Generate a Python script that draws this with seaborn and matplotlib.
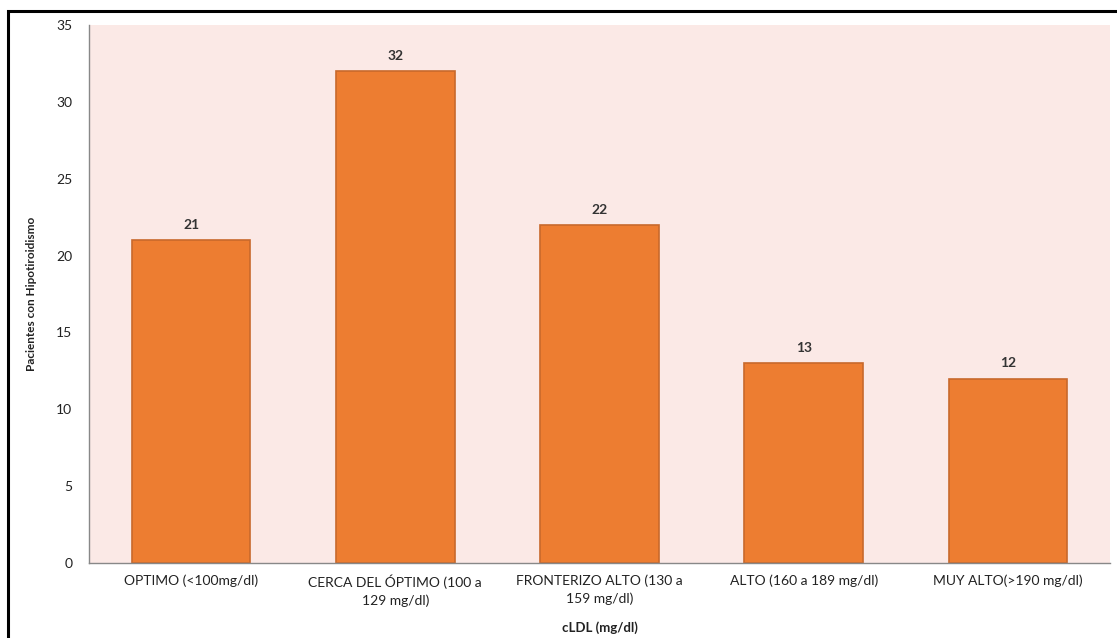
import matplotlib
matplotlib.use("Agg")
import matplotlib.pyplot as plt
import seaborn as sns
import pandas as pd
from matplotlib.patches import Rectangle

categories = ["OPTIMO (<100mg/dl)", "CERCA DEL ÓPTIMO (100 a\n129 mg/dl)",
              "FRONTERIZO ALTO (130 a\n159 mg/dl)", "ALTO (160 a 189 mg/dl)",
              "MUY ALTO(>190 mg/dl)"]
values = [21, 32, 22, 13, 12]
yticks = [0, 5, 10, 15, 20, 25, 30, 35]

sns.set_theme(style="white")
plt.rcParams['font.family'] = ['Lato', 'DejaVu Sans']

df = pd.DataFrame({"cat": categories, "val": values})

fig = plt.figure(figsize=(11.17, 6.38), dpi=100)
ax = fig.add_axes([89/1117, 1-563/638, (1110-89)/1117, (563-25)/638])
ax.set_facecolor("#FBE9E6")

sns.barplot(data=df, x="cat", y="val", ax=ax, color="#ED7D31", width=0.58,
            saturation=1, edgecolor="#C8692C", linewidth=1.2)

for i, v in enumerate(values):
    ax.text(i, v + 0.6, str(v), ha="center", va="bottom", fontsize=10,
            fontweight="bold", color="#333333")

ax.set_ylim(0, 35)
ax.set_xlim(-0.5, len(categories) - 0.5)
ax.set_yticks(yticks)
ax.tick_params(axis="y", labelsize=10, pad=12, length=0, colors="#222222")
ax.tick_params(axis="x", labelsize=10, pad=8, length=0, colors="#222222")
for lbl in ax.get_xticklabels():
    lbl.set_linespacing(1.55)
ax.set_ylabel("Pacientes con Hipotiroidismo", fontsize=8.5, fontweight="bold",
              labelpad=14, color="#222222")
ax.set_xlabel("cLDL (mg/dl)", fontsize=9.5, fontweight="bold", labelpad=10,
              color="#222222")

for s in ["top", "right"]:
    ax.spines[s].set_visible(False)
ax.spines["left"].set_color("#888888")
ax.spines["bottom"].set_color("#888888")
ax.spines["left"].set_linewidth(1.0)
ax.spines["bottom"].set_linewidth(1.0)

fig.patches.append(Rectangle((8/1117, -0.01), 1.02, 1.01 - 11/638,
                             transform=fig.transFigure, fill=False,
                             edgecolor="black", linewidth=2.2, zorder=10))

fig.savefig("out.png", dpi=100)
